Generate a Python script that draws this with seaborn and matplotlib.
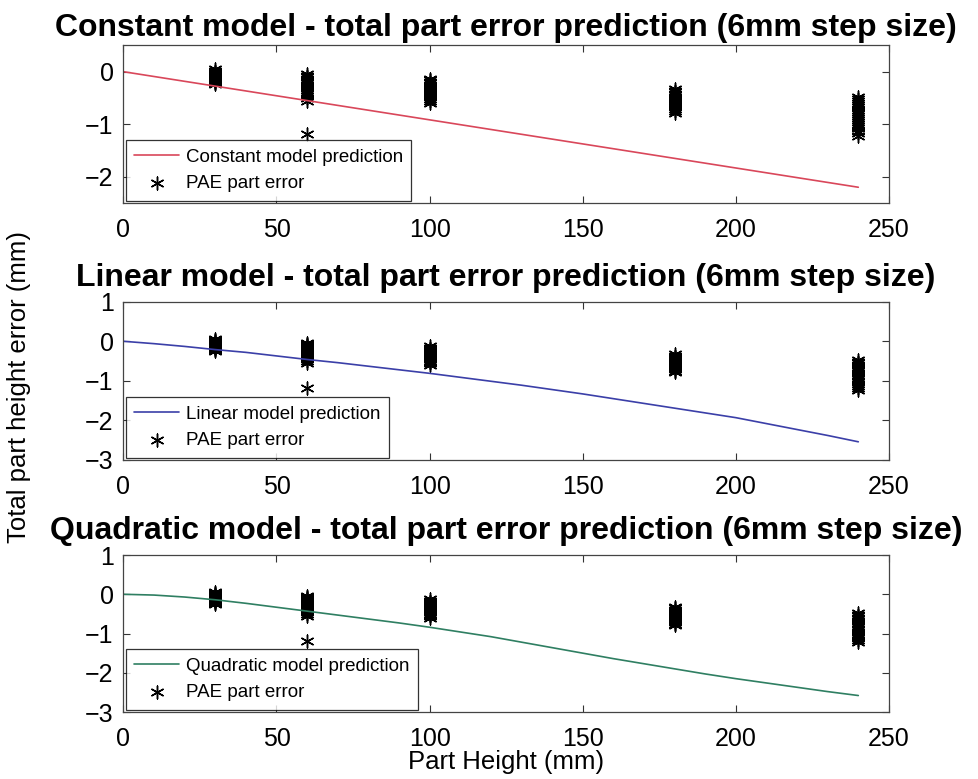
import numpy as np
import pandas as pd
import matplotlib
matplotlib.use("Agg")
import matplotlib.pyplot as plt
import matplotlib.font_manager as fm
import seaborn as sns

# Measured part height errors (PAE parts), grouped by nominal part height (mm)
pae_heights = [30, 60, 100, 180, 240]
pae_err_30 = [0.05, 0.02, 0.0, -0.02, -0.04, -0.05, -0.07, -0.08, -0.09, -0.1, -0.11,
              -0.12, -0.13, -0.14, -0.15, -0.16, -0.18, -0.2, -0.22, -0.24]
pae_err_60 = [-0.05, -0.08, -0.1, -0.13, -0.15, -0.18, -0.2, -0.22, -0.25, -0.27, -0.3,
              -0.32, -0.35, -0.38, -0.4, -0.43, -0.46, -0.5, -0.55, -1.19]
pae_err_100 = [-0.13, -0.16, -0.19, -0.22, -0.25, -0.27, -0.3, -0.32, -0.34, -0.36,
               -0.38, -0.4, -0.42, -0.44, -0.46, -0.49, -0.52, -0.56, -0.6]
pae_err_180 = [-0.33, -0.36, -0.39, -0.42, -0.45, -0.48, -0.5, -0.52, -0.54, -0.56,
               -0.58, -0.6, -0.62, -0.65, -0.68, -0.71, -0.75, -0.78]
pae_err_240 = [-0.48, -0.52, -0.56, -0.6, -0.64, -0.68, -0.72, -0.76, -0.8, -0.84,
               -0.88, -0.92, -0.96, -1.0, -1.04, -1.08, -1.12, -1.17, -1.22]

# Model predictions of total part error vs part height (mm)
const_height = [0, 240]
pred_constant = [0.0, -2.2]
model_height = [0, 10, 20, 30, 40, 50, 60, 70, 80, 90, 100, 110, 120,
                130, 140, 150, 160, 170, 180, 190, 200, 210, 220, 230, 240]
pred_linear = [0.0, -0.06, -0.13, -0.21, -0.28, -0.37, -0.46, -0.54, -0.63, -0.72,
               -0.81, -0.91, -1.01, -1.11, -1.22, -1.33, -1.45, -1.57, -1.69, -1.81,
               -1.93, -2.08, -2.23, -2.38, -2.54]
pred_quadratic = [0.0, -0.02, -0.07, -0.14, -0.23, -0.33, -0.43, -0.53, -0.63, -0.73,
                  -0.84, -0.96, -1.08, -1.22, -1.36, -1.5, -1.64, -1.77, -1.9, -2.03,
                  -2.15, -2.26, -2.37, -2.48, -2.58]

titles = [
    "Constant model - total part error prediction (6mm step size)",
    "Linear model - total part error prediction (6mm step size)",
    "Quadratic model - total part error prediction (6mm step size)",
]
model_labels = ["Constant model prediction", "Linear model prediction", "Quadratic model prediction"]
model_colors = ["#d9475a", "#3b3fa8", "#2f7f62"]
y_limits = [(-2.5, 0.5), (-3, 1), (-3, 1)]
y_ticks = [[-2, -1, 0], [-3, -2, -1, 0, 1], [-3, -2, -1, 0, 1]]
x_ticks = [0, 50, 100, 150, 200, 250]
title_pads = [7, 11.5, 11.5]

pae = pd.DataFrame({
    "height": np.concatenate([[h] * len(v) for h, v in zip(
        pae_heights, [pae_err_30, pae_err_60, pae_err_100, pae_err_180, pae_err_240])]),
    "error": np.concatenate([pae_err_30, pae_err_60, pae_err_100, pae_err_180, pae_err_240]),
})
pred_frames = [
    pd.DataFrame({"height": const_height, "error": pred_constant}),
    pd.DataFrame({"height": model_height, "error": pred_linear}),
    pd.DataFrame({"height": model_height, "error": pred_quadratic}),
]

sns.set_theme(style="white")
names = {f.name for f in fm.fontManager.ttflist}
narrow = "Liberation Sans Narrow" if "Liberation Sans Narrow" in names else "Liberation Sans"
plt.rcParams["font.family"] = ["Liberation Sans", "DejaVu Sans"]
plt.rcParams["text.color"] = "black"
plt.rcParams["axes.labelcolor"] = "black"

fig = plt.figure(figsize=(9.79, 7.79), dpi=100)
axes_boxes = [
    [0.126, 0.7394, 0.782, 0.2023],
    [0.126, 0.4095, 0.782, 0.2032],
    [0.126, 0.0860, 0.782, 0.2015],
]

asterisk = (6, 2, 0)
for i, box in enumerate(axes_boxes):
    ax = fig.add_axes(box)
    sns.lineplot(data=pred_frames[i], x="height", y="error", ax=ax, color=model_colors[i],
                 linewidth=1.2, label=model_labels[i])
    sns.scatterplot(data=pae, x="height", y="error", ax=ax, marker=asterisk, s=85,
                    color="black", edgecolor="black", linewidth=1.05, label="PAE part error")
    ax.set_xlim(0, 250)
    ax.set_ylim(*y_limits[i])
    ax.set_xticks(x_ticks)
    ax.set_yticks(y_ticks[i])
    ax.set_xlabel("")
    ax.set_ylabel("")
    ax.tick_params(direction="in", length=5, width=0.8, colors="#333333",
                   labelcolor="black", labelsize=18, top=True, right=True,
                   bottom=True, left=True)
    ax.tick_params(axis="x", pad=11)
    ax.tick_params(axis="y", pad=7)
    for sp in ax.spines.values():
        sp.set_color("#444444")
        sp.set_linewidth(0.9)
    ax.set_title(titles[i], fontsize=23, fontweight="bold", pad=title_pads[i],
                 family=[narrow, "Liberation Sans", "DejaVu Sans"])
    leg = ax.legend(loc="lower left", fontsize=13.5, frameon=True, fancybox=False,
                    borderaxespad=0.12, handlelength=2.4, handletextpad=0.35,
                    borderpad=0.45, labelspacing=0.5)
    leg.get_frame().set_edgecolor("black")
    leg.get_frame().set_linewidth(0.9)

fig.text(0.517, 0.022, "Part Height (mm)", ha="center", va="center", fontsize=18.5)
fig.text(0.019, 0.503, "Total part height error (mm)", ha="center", va="center",
         rotation=90, fontsize=18.5)

fig.savefig("out.png", dpi=100)
